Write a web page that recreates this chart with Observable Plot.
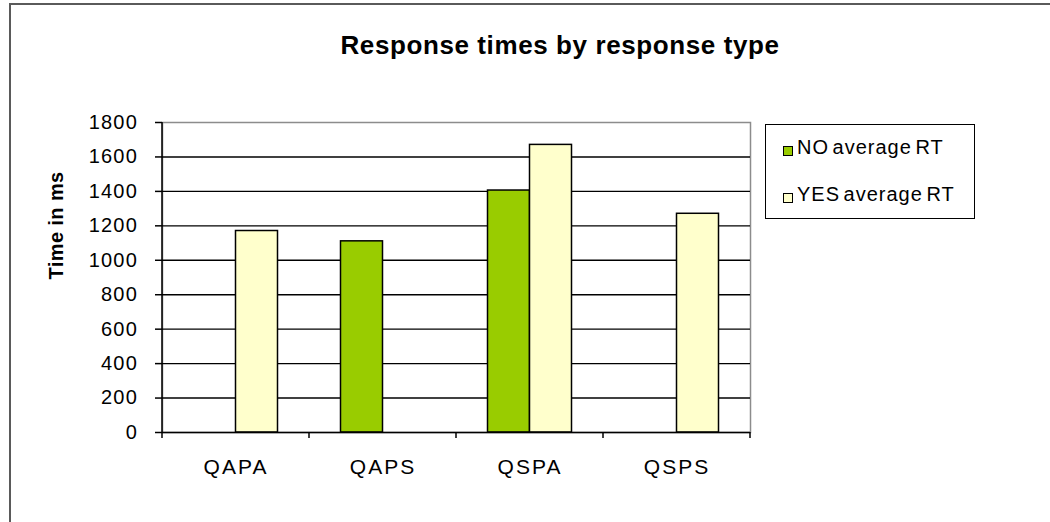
<!DOCTYPE html>
<html>
<head>
<meta charset="utf-8">
<script src="https://cdn.jsdelivr.net/npm/d3@7"></script>
<script src="https://cdn.jsdelivr.net/npm/@observablehq/plot@0.6"></script>
<style>
  body { margin: 0; background: #fff; }
  #wrap { position: relative; width: 1050px; height: 522px; overflow: hidden; background: #fff;
          font-family: "Liberation Sans", Arial, sans-serif; color: #000; }
  #border { position: absolute; left: 9px; top: 3px; width: 1200px; height: 700px;
            border-left: 2px solid #5a5a5a; border-top: 2px solid #5a5a5a; }
  #chart { position: absolute; left: 0; top: 0; }
  #chart svg text { letter-spacing: 1.2px; }
  #title { position: absolute; left: 160px; width: 800px; top: 32px; text-align: center;
           font-weight: bold; font-size: 26px; line-height: 26px; letter-spacing: 0.6px; white-space: nowrap; }
  #legend { position: absolute; left: 765px; top: 124px; width: 208px; height: 93px;
            border: 1.5px solid #000; background: #fff; }
  .lt { position: absolute; left: 31px; font-size: 20px; line-height: 20px; letter-spacing: 1px;
        word-spacing: -3px; white-space: nowrap; }
  .sw { position: absolute; left: 17px; width: 8px; height: 8px; border: 1.5px solid #000; }
</style>
</head>
<body>
<div id="wrap">
  <div id="border"></div>
  <div id="chart"></div>
  <div id="title"></div>
  <div id="legend"></div>
</div>
<script>
// ---- data ----
const categories = ["QAPA", "QAPS", "QSPA", "QSPS"];
const seriesNames = ["NO average RT", "YES average RT"];
const noValues = [null, 1110, 1405, null];
const yesValues = [1170, null, 1670, 1270];
const yTicks = [0, 200, 400, 600, 800, 1000, 1200, 1400, 1600, 1800];
const seriesColors = ["#99CC00", "#FFFFCC"];
const titleText = "Response times by response type";
const yLabel = "Time in ms";

// ---- layout ----
const W = 1050, H = 522;
const ml = 162, mr = 300, mt = 122, mb = 90;
const bw = (W - ml - mr) / categories.length;   // band width per category
const barW = bw / 3.5;                           // Excel gap width 150%

const noRows = categories.map((c, i) => ({category: c, value: noValues[i]})).filter(d => d.value != null);
const yesRows = categories.map((c, i) => ({category: c, value: yesValues[i]})).filter(d => d.value != null);

function axisLines(index, scales) {
  const x = scales.x, y = scales.y;
  const b = typeof x.bandwidth === "function" ? x.bandwidth() : x.bandwidth;
  const edges = categories.map(c => x(c));
  edges.push(x(categories[categories.length - 1]) + b);
  const y0 = y(0), yTop = y(yTicks[yTicks.length - 1]);
  const g = d3.create("svg:g").attr("stroke", "#000").attr("stroke-width", 1.5);
  g.append("line").attr("x1", edges[0]).attr("x2", edges[0]).attr("y1", yTop).attr("y2", y0);
  for (const e of edges) {
    g.append("line").attr("x1", e).attr("x2", e).attr("y1", y0).attr("y2", y0 + 6);
  }
  return g.node();
}

const plot = Plot.plot({
  width: W,
  height: H,
  marginLeft: ml,
  marginRight: mr,
  marginTop: mt,
  marginBottom: mb,
  style: {fontFamily: '"Liberation Sans", Arial, sans-serif', background: "transparent", overflow: "visible", color: "#000"},
  x: {domain: categories, padding: 0},
  y: {domain: [0, yTicks[yTicks.length - 1]]},
  marks: [
    Plot.frame({stroke: "#8c8c8c", strokeWidth: 1.5}),
    Plot.ruleY(yTicks.filter(v => v > 0 && v < yTicks[yTicks.length - 1]), {stroke: "#000", strokeWidth: 1.4}),
    Plot.barY(noRows, {x: "category", y: "value", fill: seriesColors[0], stroke: "#000", strokeWidth: 1.5,
      insetLeft: bw / 2 - barW, insetRight: bw / 2}),
    Plot.barY(yesRows, {x: "category", y: "value", fill: seriesColors[1], stroke: "#000", strokeWidth: 1.5,
      insetLeft: bw / 2, insetRight: bw / 2 - barW}),
    Plot.ruleY([0], {stroke: "#000", strokeWidth: 1.5}),
    axisLines,
    Plot.axisY({ticks: yTicks, tickFormat: d => String(d), tickSize: 7, tickPadding: 17.5,
      fontSize: 20, label: null, strokeWidth: 1.5}),
    Plot.axisX({tickSize: 0, tickPadding: 27, fontSize: 21, label: null}),
    Plot.text([yLabel], {text: d => d, frameAnchor: "left", rotate: -90, dx: -105.5, dy: 2,
      fontSize: 20, fontWeight: "bold"})
  ]
});

document.getElementById("chart").appendChild(plot);
d3.select(plot).selectAll('g[aria-label="x-axis tick label"] text').style("letter-spacing", "2px");
d3.select(plot).selectAll('g[aria-label="text"] text').style("letter-spacing", "0.4px");

document.getElementById("title").textContent = titleText;

const legend = d3.select("#legend");
const baselines = [28.5, 75.5];
seriesNames.forEach((name, i) => {
  legend.append("div").attr("class", "sw")
    .style("top", (baselines[i] - 8) + "px")
    .style("background", seriesColors[i]);
  legend.append("div").attr("class", "lt")
    .style("top", (baselines[i] - 17) + "px")
    .text(name);
});
</script>
</body>
</html>
